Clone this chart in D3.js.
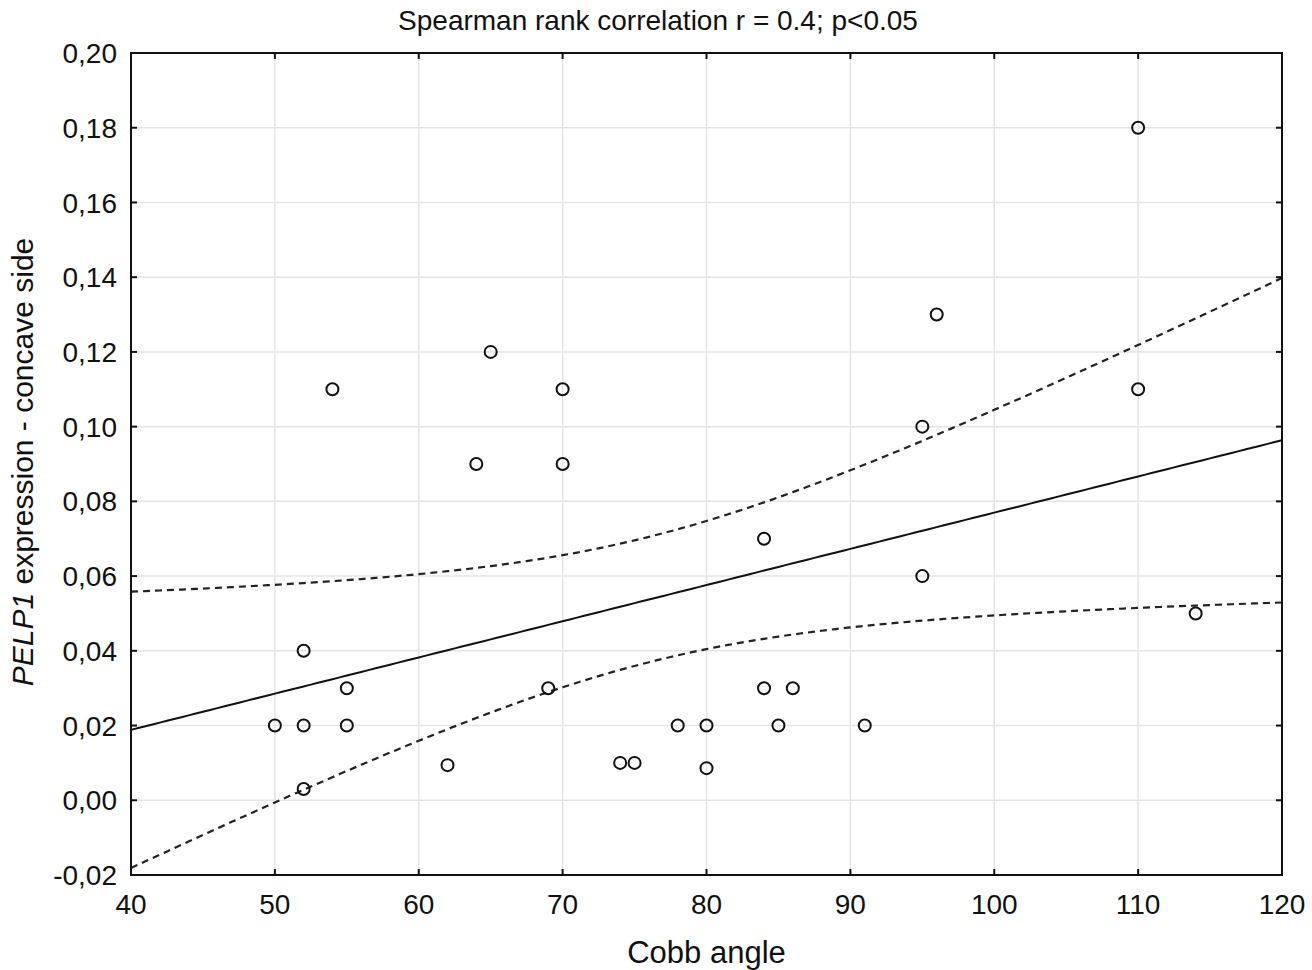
<!DOCTYPE html>
<html>
<head>
<meta charset="utf-8">
<script src="https://cdn.jsdelivr.net/npm/d3@7"></script>
<style>
    body { margin: 0; background: #fff; }
    text { font-family: "Liberation Sans", Arial, sans-serif; fill: #111; }
</style>
</head>
<body>
<div id="chart"></div>
<script>
const cobbAngle=[50, 52, 52, 52, 54, 55, 55, 62, 64, 65, 69, 70, 70, 74, 75, 78, 80, 80,
    84, 84, 85, 86, 91, 95, 95, 96, 110, 110, 114];
const pelp1=[0.02, 0.04, 0.02, 0.003, 0.11, 0.03, 0.02, 0.0094, 0.09, 0.12, 0.03, 0.11, 0.09,
    0.01, 0.01, 0.02, 0.02, 0.0086, 0.07, 0.03, 0.02, 0.03, 0.02, 0.10, 0.06, 0.13, 0.18, 0.11, 0.05];
const xTicks=[40, 50, 60, 70, 80, 90, 100, 110, 120];
const yTicks=[-0.02, 0, 0.02, 0.04, 0.06, 0.08, 0.10, 0.12, 0.14, 0.16, 0.18, 0.20];
const title="Spearman rank correlation r = 0.4; p<0.05";

const width=1312, height=970;
const margin={left: 131, right: 30, top: 53, bottom: 95};

const svg=d3.select("#chart").append("svg")
    .attr("width", width)
    .attr("height", height);

const x=d3.scaleLinear().domain([40, 120]).range([margin.left, width-margin.right]);
const y=d3.scaleLinear().domain([-0.02, 0.20]).range([height-margin.bottom, margin.top]);

const fmt=v => d3.format(".2f")(v).replace(".", ",").replace("−", "-");

// grid
svg.append("g").selectAll("line").data(xTicks.slice(1, -1)).enter().append("line")
    .attr("x1", d => x(d)).attr("x2", d => x(d))
    .attr("y1", y(0.20)).attr("y2", y(-0.02))
    .attr("stroke", "#e4e4e4").attr("stroke-width", 1.5);
svg.append("g").selectAll("line").data(yTicks.slice(1, -1)).enter().append("line")
    .attr("x1", x(40)).attr("x2", x(120))
    .attr("y1", d => y(d)).attr("y2", d => y(d))
    .attr("stroke", "#e4e4e4").attr("stroke-width", 1.5);

// linear fit with 95% confidence band
const n=cobbAngle.length;
const mx=d3.mean(cobbAngle), my=d3.mean(pelp1);
let sxx=0, sxy=0;
for (let i=0; i<n; i++) {
    sxx+=(cobbAngle[i]-mx)**2;
    sxy+=(cobbAngle[i]-mx)*(pelp1[i]-my);
}
const slope=sxy/sxx, icpt=my-slope*mx;
let sse=0;
for (let i=0; i<n; i++) sse+=(pelp1[i]-(icpt+slope*cobbAngle[i]))**2;
const s=Math.sqrt(sse/(n-2));
const tval=2.052;
const xs=d3.range(40, 120.01, 0.5);
const band=k => xs.map(v => [v, icpt+slope*v+k*tval*s*Math.sqrt(1/n+(v-mx)**2/sxx)]);

const line=d3.line().x(d => x(d[0])).y(d => y(d[1]));
svg.append("path").datum(band(0)).attr("d", line)
    .attr("fill", "none").attr("stroke", "#111").attr("stroke-width", 2);
[1, -1].forEach(k => {
    svg.append("path").datum(band(k)).attr("d", line)
        .attr("fill", "none").attr("stroke", "#222").attr("stroke-width", 2.2)
        .attr("stroke-dasharray", "7,5");
});

// points
svg.append("g").selectAll("circle").data(cobbAngle).enter().append("circle")
    .attr("cx", d => x(d))
    .attr("cy", (d, i) => y(pelp1[i]))
    .attr("r", 6)
    .attr("fill", "none")
    .attr("stroke", "#111")
    .attr("stroke-width", 2);

// frame + inward ticks
svg.append("rect")
    .attr("x", x(40)).attr("y", y(0.20))
    .attr("width", x(120)-x(40)).attr("height", y(-0.02)-y(0.20))
    .attr("fill", "none").attr("stroke", "#111").attr("stroke-width", 2);

const tk=6;
const ticks=svg.append("g").attr("stroke", "#111").attr("stroke-width", 2);
xTicks.forEach(v => {
    ticks.append("line").attr("x1", x(v)).attr("x2", x(v)).attr("y1", y(-0.02)).attr("y2", y(-0.02)-tk);
    ticks.append("line").attr("x1", x(v)).attr("x2", x(v)).attr("y1", y(0.20)).attr("y2", y(0.20)+tk);
});
yTicks.forEach(v => {
    ticks.append("line").attr("x1", x(40)).attr("x2", x(40)+tk).attr("y1", y(v)).attr("y2", y(v));
    ticks.append("line").attr("x1", x(120)).attr("x2", x(120)-tk).attr("y1", y(v)).attr("y2", y(v));
});

// tick labels
svg.append("g").selectAll("text").data(xTicks).enter().append("text")
    .attr("x", d => x(d)).attr("y", 914)
    .attr("text-anchor", "middle")
    .attr("font-size", 28)
    .text(d => d);
svg.append("g").selectAll("text").data(yTicks).enter().append("text")
    .attr("x", 117).attr("y", d => y(d)).attr("dy", "0.36em")
    .attr("text-anchor", "end")
    .attr("font-size", 28)
    .text(d => fmt(d));

// titles
svg.append("text")
    .attr("x", 658).attr("y", 30)
    .attr("text-anchor", "middle")
    .attr("font-size", 28)
    .text(title);

svg.append("text")
    .attr("x", (x(40)+x(120))/2).attr("y", 963)
    .attr("text-anchor", "middle")
    .attr("font-size", 31)
    .text("Cobb angle");

const yl=svg.append("text")
    .attr("transform", "translate(33,462) rotate(-90)")
    .attr("text-anchor", "middle")
    .attr("font-size", 30);
yl.append("tspan").attr("font-style", "italic").text("PELP1");
yl.append("tspan").text(" expression - concave side");
</script>
</body>
</html>
